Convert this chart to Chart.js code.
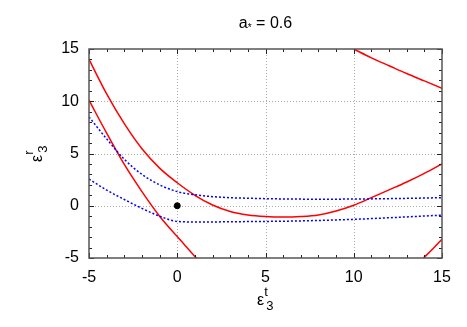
<!DOCTYPE html>
<html>
<head>
<meta charset="utf-8">
<script src="https://cdn.jsdelivr.net/npm/chart.js@4/dist/chart.umd.min.js"></script>
<style>
  html, body { margin: 0; padding: 0; background: #fff; }
</style>
</head>
<body>
<canvas id="chart" width="467" height="327"></canvas>
<script>
// axis ranges and tick labels
const xTicks = [-5, 0, 5, 10, 15];
const yTicks = [-5, 0, 5, 10, 15];
const titleText = ['a', '*', ' = 0.6'];

// red solid branches
const redAx = [-5, -4, -3, -2, -1, 0, 1, 1.1];
const redAy = [10.1, 6.95, 3.95, 1.35, -1.0, -2.95, -4.85, -5.05];

const redBx = [-5, -4, -3, -2, -1, 0, 1, 2, 3, 4, 5, 6, 7, 8, 9, 10, 11, 12, 13, 14, 15];
const redBy = [14.0, 10.7, 7.85, 5.45, 3.6, 2.2, 1.0, 0.07, -0.55, -0.88, -1.03, -1.08, -1.03, -0.88, -0.5, 0.05, 0.78, 1.52, 2.27, 3.1, 4.0];

const redCx = [10, 11, 12, 13, 14, 15];
const redCy = [15, 14.15, 13.4, 12.65, 11.95, 11.25];

const redDx = [13.95, 14.5, 15];
const redDy = [-5, -4.1, -3.2];

// blue dotted branches
const blueUx = [-5, -4, -3, -2, -1, 0, 1, 2, 3, 4, 5, 6, 8, 10, 12, 15];
const blueUy = [8.5, 6.4, 4.45, 3.0, 2.0, 1.35, 1.05, 0.87, 0.77, 0.72, 0.68, 0.65, 0.63, 0.64, 0.68, 0.77];

const blueLx = [-5, -4, -3, -2, -1, 0, 1, 2, 3, 5, 7, 10, 12, 15];
const blueLy = [2.55, 1.5, 0.6, -0.25, -1.0, -1.5, -1.55, -1.55, -1.53, -1.5, -1.45, -1.3, -1.15, -0.9];

// black point
const dotX = [0];
const dotY = [0];

const FONT = '"Liberation Sans", Arial, sans-serif';

function pts(xs, ys) {
    return xs.map((x, i) => ({ x: x, y: ys[i] }));
}

function curve(xs, ys, color, dotted) {
    return {
        data: pts(xs, ys),
        showLine: true,
        borderColor: color,
        borderWidth: 1.5,
        borderDash: dotted ? [2, 2] : [],
        pointRadius: 0,
        cubicInterpolationMode: 'monotone',
        fill: false
    };
}

// frame, inward ticks, dotted grid, title and axis labels
const framePlugin = {
    id: 'frame',
    beforeDatasetsDraw(chart) {
        const ctx = chart.ctx;
        const a = chart.chartArea;
        const xs = chart.scales.x, ys = chart.scales.y;
        ctx.save();
        ctx.strokeStyle = '#aaaaaa';
        ctx.lineWidth = 1;
        ctx.setLineDash([1, 2]);
        xTicks.slice(1, -1).forEach(v => {
            const px = Math.round(xs.getPixelForValue(v)) + 0.5;
            ctx.beginPath(); ctx.moveTo(px, a.top); ctx.lineTo(px, a.bottom); ctx.stroke();
        });
        yTicks.slice(1, -1).forEach(v => {
            const py = Math.round(ys.getPixelForValue(v)) + 0.5;
            ctx.beginPath(); ctx.moveTo(a.left, py); ctx.lineTo(a.right, py); ctx.stroke();
        });
        ctx.restore();
    },
    afterDatasetsDraw(chart) {
        const ctx = chart.ctx;
        const a = chart.chartArea;
        const xs = chart.scales.x, ys = chart.scales.y;
        ctx.save();
        ctx.strokeStyle = '#222';
        ctx.lineWidth = 1;
        for (let v = xs.min; v <= xs.max; v++) {
            const px = Math.round(xs.getPixelForValue(v)) + 0.5;
            const len = v % 5 === 0 ? 5 : 3;
            ctx.beginPath();
            ctx.moveTo(px, a.bottom); ctx.lineTo(px, a.bottom - len);
            ctx.moveTo(px, a.top); ctx.lineTo(px, a.top + len);
            ctx.stroke();
        }
        for (let v = ys.min; v <= ys.max; v++) {
            const py = Math.round(ys.getPixelForValue(v)) + 0.5;
            const len = v % 5 === 0 ? 5 : 3;
            ctx.beginPath();
            ctx.moveTo(a.left, py); ctx.lineTo(a.left + len, py);
            ctx.moveTo(a.right, py); ctx.lineTo(a.right - len, py);
            ctx.stroke();
        }
        ctx.strokeStyle = '#555';
        ctx.lineWidth = 1.5;
        ctx.strokeRect(a.left, a.top, a.right - a.left, a.bottom - a.top);

        // title
        ctx.fillStyle = '#000';
        ctx.textBaseline = 'alphabetic';
        ctx.textAlign = 'left';
        ctx.font = '16px ' + FONT;
        const w0 = ctx.measureText(titleText[0]).width;
        const w2 = ctx.measureText(titleText[2]).width;
        ctx.font = '10px ' + FONT;
        const w1 = ctx.measureText(titleText[1]).width;
        const cx = (a.left + a.right) / 2;
        const tx = cx - (w0 + w1 + w2) / 2;
        const tb = 28;
        ctx.font = '16px ' + FONT;
        ctx.fillText(titleText[0], tx, tb);
        ctx.font = '10px ' + FONT;
        ctx.fillText(titleText[1], tx + w0, tb + 3);
        ctx.font = '16px ' + FONT;
        ctx.fillText(titleText[2], tx + w0 + w1, tb);

        // axis labels
        drawEps(ctx, 257, 305, 't', '3');
        ctx.save();
        ctx.translate(42, 162);
        ctx.rotate(-Math.PI / 2);
        drawEps(ctx, 0, 0, 'r', '3');
        ctx.restore();
        ctx.restore();
    }
};

function drawEps(ctx, x0, base, sup, sub) {
    ctx.fillStyle = '#000';
    ctx.textAlign = 'left';
    ctx.textBaseline = 'alphabetic';
    ctx.font = '16px ' + FONT;
    ctx.fillText('\u03b5', x0, base);
    const w = ctx.measureText('\u03b5').width;
    ctx.font = '13px ' + FONT;
    ctx.fillText(sup, x0 + w, base - 9);
    ctx.fillText(sub, x0 + w + 2, base + 5);
}

new Chart(document.getElementById('chart'), {
    type: 'scatter',
    data: {
        datasets: [
            curve(blueUx, blueUy, '#0000ff', true),
            curve(blueLx, blueLy, '#0000ff', true),
            curve(redAx, redAy, '#ff0000', false),
            curve(redBx, redBy, '#ff0000', false),
            curve(redCx, redCy, '#ff0000', false),
            curve(redDx, redDy, '#ff0000', false),
            {
                data: pts(dotX, dotY),
                pointRadius: 3,
                pointBackgroundColor: '#000',
                pointBorderColor: '#000',
                showLine: false
            }
        ]
    },
    options: {
        responsive: false,
        animation: false,
        devicePixelRatio: 1,
        layout: { padding: { top: 49, right: 25, left: 0, bottom: 0 } },
        plugins: {
            legend: { display: false },
            title: { display: false },
            tooltip: { enabled: false }
        },
        scales: {
            x: {
                type: 'linear',
                min: -5,
                max: 15,
                afterBuildTicks: s => { s.ticks = xTicks.map(v => ({ value: v })); },
                afterFit: s => { s.height = 69; },
                grid: { display: false, drawTicks: false },
                border: { display: false },
                ticks: { color: '#000', padding: 10, maxRotation: 0, font: { family: FONT, size: 16 } }
            },
            y: {
                type: 'linear',
                min: -5,
                max: 15,
                afterBuildTicks: s => { s.ticks = yTicks.map(v => ({ value: v })); },
                afterFit: s => { s.width = 89; },
                grid: { display: false, drawTicks: false },
                border: { display: false },
                ticks: { color: '#000', padding: 10, font: { family: FONT, size: 16 } }
            }
        }
    },
    plugins: [framePlugin]
});
</script>
</body>
</html>
